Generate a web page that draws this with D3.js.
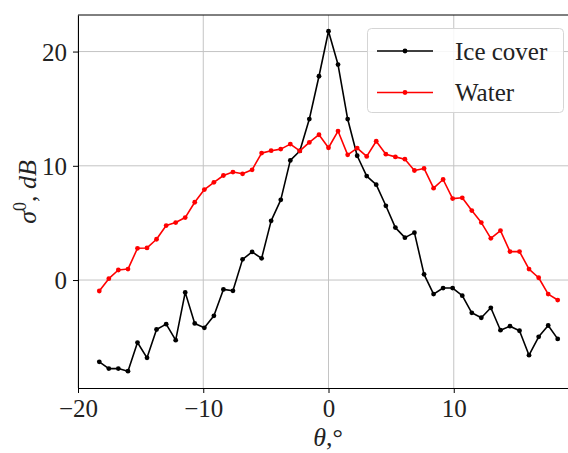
<!DOCTYPE html>
<html>
<head>
<meta charset="utf-8">
<script src="https://cdn.jsdelivr.net/npm/d3@7"></script>
<style>
  body { margin: 0; background: #fff; }
</style>
</head>
<body>
<div id="chart"></div>
<script>
// incidence angles, degrees
const theta = [
  -18.30, -17.54, -16.78, -16.01, -15.25, -14.49, -13.73, -12.96, -12.20, -11.44,
  -10.68, -9.91, -9.15, -8.39, -7.63, -6.86, -6.10, -5.34, -4.58, -3.81,
  -3.05, -2.29, -1.53, -0.76, 0.00, 0.76, 1.53, 2.29, 3.05, 3.81,
  4.58, 5.34, 6.10, 6.86, 7.63, 8.39, 9.15, 9.91, 10.68, 11.44,
  12.20, 12.96, 13.73, 14.49, 15.25, 16.01, 16.78, 17.54, 18.30
];

const iceCover = [
  -7.16, -7.75, -7.75, -7.98, -5.47, -6.81, -4.33, -3.86, -5.26, -1.08,
  -3.80, -4.18, -3.13, -0.82, -0.94, 1.81, 2.46, 1.90, 5.18, 7.02,
  10.47, 11.30, 14.09, 17.84, 21.78, 18.86, 14.09, 10.88, 9.10, 8.35,
  6.50, 4.59, 3.71, 4.15, 0.50, -1.23, -0.70, -0.70, -1.37, -2.87,
  -3.30, -2.43, -4.39, -4.04, -4.44, -6.58, -4.97, -3.98, -5.15
];

const water = [
  -0.96, 0.12, 0.88, 0.96, 2.78, 2.81, 3.57, 4.77, 5.03, 5.47,
  6.81, 7.92, 8.55, 9.15, 9.45, 9.30, 9.65, 11.11, 11.32, 11.46,
  11.90, 11.30, 12.05, 12.72, 11.58, 13.04, 10.96, 11.55, 10.82, 12.15,
  11.02, 10.78, 10.58, 9.59, 9.77, 8.04, 8.80, 7.13, 7.20, 6.08,
  5.03, 3.65, 4.33, 2.49, 2.49, 0.96, 0.20, -1.23, -1.75
];

const xTicks = [-20, -10, 0, 10];
const yTicks = [0, 10, 20];

const series = [
  { name: 'Ice cover', values: iceCover, color: '#000000' },
  { name: 'Water', values: water, color: '#ff0000' }
];

const width = 568;
const height = 453;
const fs = 25;
const serif = '"Liberation Serif", "DejaVu Serif", serif';

const svg = d3.select('#chart')
  .append('svg')
  .attr('width', width)
  .attr('height', height)
  .style('font-family', serif);

const x = d3.scaleLinear().domain([-20, 20]).range([78, 579]);
const y = d3.scaleLinear().domain([-9.45, 23.2]).range([388, 15]);

const tickFmt = d => (d < 0 ? '\u2212' + Math.abs(d) : String(d));

// grid
const grid = svg.append('g');
grid.selectAll('.gx')
  .data(xTicks)
  .enter()
  .append('line')
  .attr('x1', d => x(d)).attr('x2', d => x(d))
  .attr('y1', y.range()[0]).attr('y2', y.range()[1])
  .attr('stroke', '#c4c4c4')
  .attr('stroke-width', 1);
grid.selectAll('.gy')
  .data(yTicks)
  .enter()
  .append('line')
  .attr('x1', x.range()[0]).attr('x2', x.range()[1])
  .attr('y1', d => y(d)).attr('y2', d => y(d))
  .attr('stroke', '#c4c4c4')
  .attr('stroke-width', 1);

// axes
const xAxis = svg.append('g')
  .attr('transform', `translate(0,${y.range()[0]})`)
  .call(d3.axisBottom(x).tickValues(xTicks).tickFormat(tickFmt).tickSize(5).tickSizeOuter(0).tickPadding(6));
const yAxis = svg.append('g')
  .attr('transform', `translate(${x.range()[0]},0)`)
  .call(d3.axisLeft(y).tickValues(yTicks).tickFormat(tickFmt).tickSize(5).tickSizeOuter(0).tickPadding(6));

[xAxis, yAxis].forEach(a => {
  a.attr('font-family', serif).attr('font-size', fs);
  a.select('.domain').attr('stroke', '#000').attr('stroke-width', 1);
  a.selectAll('.tick line').attr('stroke', '#000').attr('stroke-width', 1);
  a.selectAll('.tick text')
    .attr('fill', '#222')
    .style('font-family', serif)
    .style('font-size', fs + 'px');
});
yAxis.selectAll('.tick text').attr('dy', '0.34em');

// top spine
svg.append('line')
  .attr('x1', x.range()[0]).attr('x2', width)
  .attr('y1', y.range()[1]).attr('y2', y.range()[1])
  .attr('stroke', '#000').attr('stroke-width', 1);

// lines and markers
const line = d3.line()
  .x((d, i) => x(theta[i]))
  .y(d => y(d));

series.forEach(s => {
  svg.append('path')
    .datum(s.values)
    .attr('fill', 'none')
    .attr('stroke', s.color)
    .attr('stroke-width', 1.6)
    .attr('stroke-linejoin', 'round')
    .attr('d', line);

  svg.append('g')
    .selectAll('circle')
    .data(s.values)
    .enter()
    .append('circle')
    .attr('cx', (d, i) => x(theta[i]))
    .attr('cy', d => y(d))
    .attr('r', 2.4)
    .attr('fill', s.color);
});

// axis labels
svg.append('text')
  .attr('x', 328)
  .attr('y', 446)
  .attr('text-anchor', 'middle')
  .style('font-family', serif)
  .style('font-size', '26px')
  .attr('fill', '#222')
  .call(t => {
    t.append('tspan').style('font-style', 'italic').text('\u03b8');
    t.append('tspan').text(',\u00b0');
  });

svg.append('text')
  .attr('transform', 'translate(36,192) rotate(-90)')
  .attr('text-anchor', 'middle')
  .style('font-family', serif)
  .style('font-size', '26px')
  .attr('fill', '#222')
  .call(t => {
    t.append('tspan').style('font-style', 'italic').text('\u03c3');
    t.append('tspan').attr('dy', -10).style('font-size', '18px').text('0');
    t.append('tspan').attr('dy', 10).text(', ');
    t.append('tspan').style('font-style', 'italic').text('dB');
  });

// legend
const legend = svg.append('g');
legend.append('rect')
  .attr('x', 367.5).attr('y', 28.5)
  .attr('width', 196).attr('height', 84)
  .attr('rx', 4)
  .attr('fill', 'rgba(255,255,255,0.85)')
  .attr('stroke', '#d5d5d5')
  .attr('stroke-width', 1);

const rows = legend.selectAll('.row')
  .data(series)
  .enter()
  .append('g')
  .attr('transform', (d, i) => `translate(0,${51 + i * 41.5})`);

rows.append('line')
  .attr('x1', 377).attr('x2', 433)
  .attr('stroke', d => d.color)
  .attr('stroke-width', 1.6);
rows.append('circle')
  .attr('cx', 405).attr('r', 2.4)
  .attr('fill', d => d.color);
rows.append('text')
  .attr('x', 455)
  .attr('dy', '0.34em')
  .style('font-family', serif)
  .style('font-size', fs + 'px')
  .attr('fill', '#222')
  .text(d => d.name);
</script>
</body>
</html>
